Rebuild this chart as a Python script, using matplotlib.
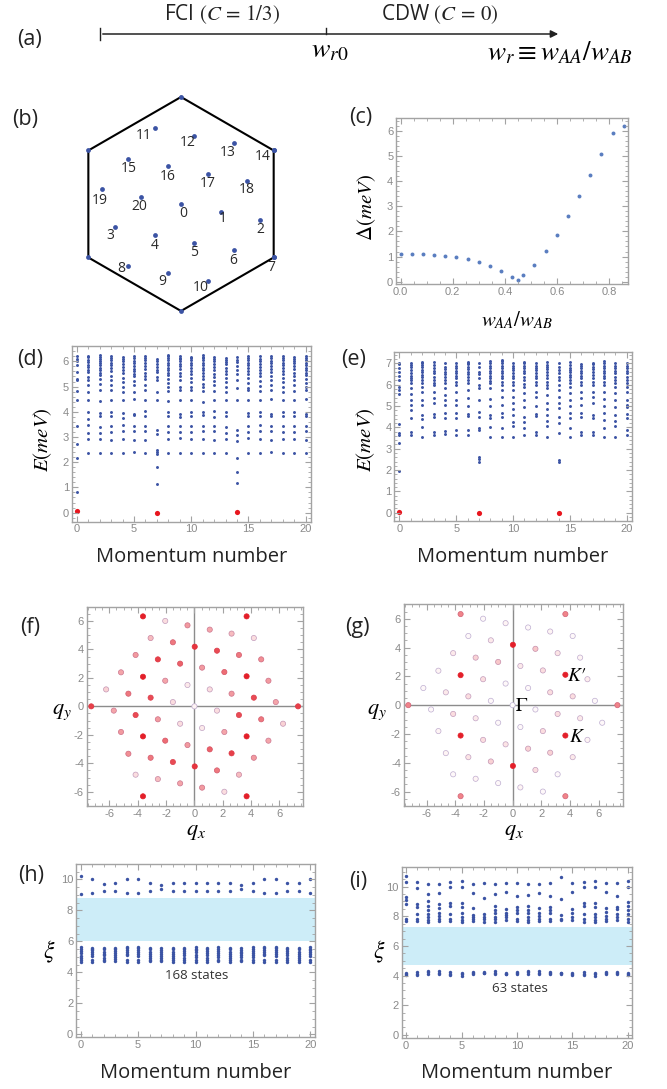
import numpy as np
import matplotlib.pyplot as plt
from matplotlib.ticker import MultipleLocator

plt.rcParams['mathtext.fontset'] = 'stix'
plt.rcParams['font.family'] = ['Liberation Sans', 'DejaVu Sans']
plt.rcParams['axes.unicode_minus'] = False

W, H = 667, 1089

# (b) momentum points inside the hexagonal zone (units of the zone radius)
bz_kx = [0.0, 0.370, 0.739, -0.618, -0.245, 0.124, 0.494, 0.866, -0.494, -0.124, 0.248,
         -0.245, 0.124, 0.494, 0.866, -0.494, -0.124, 0.248, 0.618, -0.742, -0.370]
bz_ky = [0.0, -0.071, -0.146, -0.217, -0.289, -0.360, -0.432, -0.500, -0.575, -0.646, -0.717,
         0.711, 0.640, 0.568, 0.500, 0.425, 0.354, 0.283, 0.211, 0.140, 0.068]
bz_labels = [str(i) for i in range(21)]

# (c) gap vs w_AA/w_AB
c_ratio = [0.0, 0.042, 0.087, 0.129, 0.172, 0.214, 0.257, 0.301, 0.343, 0.385, 0.429,
           0.449, 0.471, 0.513, 0.557, 0.599, 0.643, 0.685, 0.728, 0.771, 0.814, 0.856]
c_gap = [1.11, 1.11, 1.10, 1.07, 1.02, 0.97, 0.89, 0.78, 0.62, 0.44, 0.17,
         0.05, 0.25, 0.68, 1.22, 1.85, 2.60, 3.39, 4.25, 5.09, 5.89, 6.19]

# (d) spectrum, FCI side
d_blue = [
    [0.80, 2.18, 2.72, 3.44, 4.47, 4.82, 5.24, 5.28, 5.58, 5.87, 6.00, 6.09, 6.20],
    [2.38, 2.91, 3.17, 3.46, 3.72, 3.99, 4.45, 4.78, 5.07, 5.24, 5.37, 5.57, 5.66, 5.76, 5.87, 5.97, 6.07, 6.16, 6.22],
    [2.37, 2.90, 3.15, 3.40, 3.82, 3.95, 4.42, 4.85, 5.10, 5.30, 5.45, 5.55, 5.65, 5.75, 5.85, 5.95, 6.02, 6.10, 6.18, 6.25],
    [2.38, 2.88, 3.20, 3.42, 3.85, 4.00, 4.46, 4.85, 5.05, 5.25, 5.40, 5.60, 5.72, 5.85, 5.95, 6.05, 6.12, 6.20],
    [2.38, 2.92, 3.22, 3.48, 3.75, 3.95, 4.45, 4.80, 5.00, 5.20, 5.35, 5.55, 5.65, 5.78, 5.90, 6.00, 6.10, 6.18],
    [2.40, 2.88, 3.25, 3.42, 3.88, 3.92, 4.50, 4.80, 5.05, 5.22, 5.40, 5.50, 5.62, 5.70, 5.82, 5.92, 6.02, 6.12, 6.20],
    [2.38, 2.88, 3.22, 3.45, 3.85, 4.02, 4.45, 4.85, 5.05, 5.28, 5.40, 5.55, 5.70, 5.82, 5.92, 6.05, 6.12, 6.20],
    [1.13, 1.82, 2.32, 2.41, 2.47, 3.13, 3.29, 4.45, 4.80, 5.24, 5.37, 5.57, 5.66, 5.79, 5.89, 6.03, 6.09],
    [2.36, 2.92, 3.18, 3.42, 3.82, 3.98, 4.42, 4.82, 5.00, 5.15, 5.30, 5.45, 5.55, 5.65, 5.75, 5.85, 5.95, 6.05, 6.12, 6.20, 6.25],
    [2.37, 2.95, 3.20, 3.45, 3.80, 3.92, 4.48, 4.88, 5.00, 5.25, 5.40, 5.55, 5.68, 5.80, 5.90, 6.00, 6.08, 6.15, 6.22],
    [2.37, 2.90, 3.18, 3.45, 3.85, 4.00, 4.45, 4.85, 4.98, 5.18, 5.32, 5.48, 5.60, 5.72, 5.85, 5.95, 6.05, 6.12, 6.18],
    [2.36, 2.92, 3.22, 3.42, 3.88, 4.00, 4.40, 4.82, 5.00, 5.12, 5.28, 5.42, 5.55, 5.65, 5.75, 5.85, 5.95, 6.05, 6.12, 6.18, 6.24],
    [2.38, 2.88, 3.25, 3.45, 3.80, 4.02, 4.45, 4.82, 5.05, 5.22, 5.38, 5.50, 5.65, 5.78, 5.90, 6.00, 6.10, 6.18],
    [2.36, 2.92, 3.15, 3.40, 3.82, 3.98, 4.46, 4.80, 5.00, 5.18, 5.35, 5.50, 5.62, 5.75, 5.88, 5.98, 6.05, 6.12],
    [1.16, 1.62, 2.18, 2.83, 3.07, 3.26, 4.45, 4.95, 5.24, 5.50, 5.67, 5.83, 5.96, 6.07, 6.16],
    [2.38, 2.95, 3.18, 3.42, 3.85, 3.95, 4.48, 4.85, 4.95, 5.15, 5.32, 5.50, 5.62, 5.75, 5.85, 5.95, 6.05, 6.15, 6.22],
    [2.38, 2.90, 3.25, 3.48, 3.82, 4.00, 4.45, 4.82, 5.02, 5.22, 5.40, 5.55, 5.65, 5.78, 5.90, 6.00, 6.10, 6.20],
    [2.40, 2.88, 3.22, 3.42, 3.85, 3.90, 4.50, 4.85, 5.05, 5.25, 5.42, 5.58, 5.70, 5.82, 5.92, 6.02, 6.12, 6.20],
    [2.38, 2.92, 3.18, 3.45, 3.82, 3.98, 4.45, 4.80, 5.00, 5.18, 5.35, 5.48, 5.60, 5.72, 5.85, 5.95, 6.05, 6.15, 6.22],
    [2.37, 2.90, 3.20, 3.42, 3.85, 3.98, 4.48, 4.82, 5.05, 5.25, 5.40, 5.55, 5.68, 5.80, 5.92, 6.02, 6.10, 6.18],
    [2.38, 2.88, 3.25, 3.42, 3.85, 3.92, 4.50, 4.85, 5.00, 5.15, 5.30, 5.45, 5.55, 5.65, 5.75, 5.85, 5.95, 6.05, 6.12, 6.20],
]
gs_k = [0, 7, 14]
d_red = [0.07, 0.00, 0.03]

# (e) spectrum, CDW side
e_blue = [
    [1.95, 3.25, 3.64, 3.75, 4.16, 5.56, 5.75, 5.88, 6.22, 6.40, 6.60, 6.80, 6.95, 7.03],
    [3.64, 3.80, 4.42, 4.81, 5.05, 5.28, 5.56, 5.83, 6.06, 6.20, 6.30, 6.42, 6.53, 6.69, 6.84, 6.92, 7.00],
    [3.56, 4.00, 4.40, 4.58, 5.05, 5.28, 5.67, 5.90, 6.08, 6.22, 6.35, 6.45, 6.58, 6.69, 6.84, 6.92, 7.00, 7.08],
    [3.64, 3.80, 4.50, 4.63, 5.13, 5.36, 5.67, 5.98, 6.10, 6.22, 6.38, 6.53, 6.65, 6.77, 6.92, 7.05],
    [3.69, 3.83, 4.42, 4.66, 5.05, 5.28, 5.52, 5.83, 6.06, 6.20, 6.38, 6.50, 6.60, 6.72, 6.84, 7.00],
    [3.64, 3.88, 4.42, 4.69, 5.05, 5.28, 5.67, 5.98, 6.15, 6.30, 6.42, 6.53, 6.65, 6.77, 6.90, 7.03],
    [3.64, 3.90, 4.53, 4.63, 5.00, 5.36, 5.75, 6.06, 6.22, 6.38, 6.50, 6.60, 6.72, 6.84, 6.95, 7.00, 7.08],
    [2.36, 2.50, 2.63, 3.88, 3.95, 4.50, 4.73, 5.28, 5.83, 5.98, 6.30, 6.48, 6.60, 6.84, 7.03],
    [3.56, 4.00, 4.42, 4.58, 5.00, 5.31, 5.83, 6.06, 6.18, 6.30, 6.42, 6.53, 6.65, 6.77, 6.90, 7.00, 7.11],
    [3.56, 3.95, 4.50, 4.66, 5.05, 5.44, 5.75, 5.98, 6.15, 6.30, 6.42, 6.53, 6.65, 6.77, 6.88, 7.00, 7.10, 7.16],
    [3.56, 4.06, 4.27, 4.58, 4.84, 5.13, 5.44, 5.75, 5.98, 6.15, 6.30, 6.42, 6.53, 6.68, 6.80, 6.90, 7.00],
    [3.64, 3.95, 4.27, 4.50, 4.94, 5.28, 5.59, 5.90, 6.05, 6.22, 6.38, 6.53, 6.65, 6.77, 6.90, 7.00, 7.08],
    [3.64, 3.80, 4.53, 4.63, 5.00, 5.44, 5.67, 5.98, 6.15, 6.30, 6.42, 6.56, 6.68, 6.77, 6.90, 7.00],
    [3.56, 4.06, 4.31, 4.58, 4.84, 5.13, 5.52, 5.83, 6.00, 6.14, 6.30, 6.45, 6.58, 6.72, 6.82, 6.92, 7.08],
    [2.36, 2.48, 3.75, 4.19, 4.50, 4.89, 5.13, 5.44, 5.75, 5.98, 6.22, 6.38, 6.53, 6.70, 6.84, 7.00],
    [3.56, 3.95, 4.42, 4.66, 5.00, 5.28, 5.59, 5.90, 6.06, 6.22, 6.35, 6.45, 6.58, 6.69, 6.80, 6.92, 7.08],
    [3.64, 3.80, 4.50, 4.66, 5.05, 5.36, 5.67, 5.98, 6.15, 6.30, 6.42, 6.53, 6.65, 6.77, 6.88, 6.95],
    [3.64, 3.80, 4.42, 4.58, 5.13, 5.41, 5.67, 5.98, 6.15, 6.30, 6.45, 6.60, 6.72, 6.84, 6.95, 7.03],
    [3.56, 3.95, 4.34, 4.66, 5.00, 5.31, 5.67, 5.98, 6.15, 6.30, 6.42, 6.53, 6.65, 6.77, 6.90, 7.00, 7.13],
    [3.56, 4.06, 4.31, 4.58, 4.97, 5.28, 5.59, 5.90, 6.06, 6.22, 6.38, 6.53, 6.65, 6.77, 6.90, 7.00],
    [3.64, 3.88, 4.42, 4.63, 4.97, 5.05, 5.28, 5.67, 5.90, 6.06, 6.22, 6.38, 6.53, 6.65, 6.77, 6.90, 7.00],
]
e_red = [0.02, 0.00, 0.00]

# (f), (g) momentum-space weights on the extended q grid
qx = [-3.63, -2.06, -0.49, 3.68, 1.08, 2.62, 4.19, -3.09, -1.52, 0.02, 1.59, 3.14, 4.71,
      -4.15, -2.58, -1.01, 0.54, 2.11, 3.68, 5.22, -5.18, -3.63, -2.06, -0.49, 1.08, 2.62,
      4.19, 5.74, 7.31, -6.23, -4.66, -3.09, -1.52, 0.0, -7.28, -5.69, -4.15, -2.58, -1.01,
      0.54, 1.59, 3.14, 4.71, 6.25, -5.18, -3.63, -2.06, -0.49, 1.08, 2.11, 3.68, 5.22,
      -4.66, -3.09, -1.52, 0.02, 1.59, 2.62, 4.19, -4.15, -2.58, -1.01, 0.54, 2.11, 3.14,
      -3.63, 3.68]
qy = [6.32, 6.0, 5.69, 6.32, 5.39, 5.11, 4.80, 4.80, 4.50, 4.19, 3.91, 3.61, 3.30,
      3.61, 3.30, 3.0, 2.72, 2.41, 2.11, 1.80, 2.39, 2.08, 1.80, 1.50, 1.19, 0.89,
      0.61, 0.30, 0.0, 1.19, 0.89, 0.61, 0.30, 0.0, 0.0, -0.30, -0.61, -0.91, -1.22,
      -1.52, -0.30, -0.61, -0.91, -1.22, -1.80, -2.11, -2.41, -2.72, -3.02, -1.80, -2.11, -2.41,
      -3.33, -3.61, -3.91, -4.22, -4.50, -3.30, -3.61, -4.80, -5.11, -5.41, -5.71, -6.0, -4.80,
      -6.32, -6.32]
f_w = [1.0, 0.15, 0.45, 1.0, 0.4, 0.3, 0.15, 0.3, 0.6, 0.9, 0.8, 0.6, 0.5,
       0.45, 0.85, 0.7, 0.45, 0.65, 1.0, 0.45, 0.4, 1.0, 0.4, 0.1, 0.15, 0.45,
       0.8, 0.4, 0.85, 0.2, 0.6, 0.8, 0.15, 0.05, 0.85, 0.4, 0.8, 0.45, 0.15,
       0.1, 0.15, 0.8, 0.6, 0.2, 0.45, 1.0, 0.65, 0.45, 0.7, 0.4, 1.0, 0.4,
       0.5, 0.6, 0.8, 0.9, 0.6, 0.85, 0.45, 0.15, 0.3, 0.4, 0.45, 0.15, 0.3,
       1.0, 1.0]
g_w = [0.55, 0.03, 0.05, 0.55, 0.03, 0.05, 0.03, 0.03, 0.1, 1.0, 0.25, 0.12, 0.05,
       0.1, 0.2, 0.25, 0.1, 0.15, 1.0, 0.08, 0.05, 1.0, 0.15, 0.03, 0.03, 0.15,
       0.15, 0.03, 0.55, 0.03, 0.1, 0.15, 0.03, 0.02, 0.55, 0.03, 0.15, 0.1, 0.03,
       0.03, 0.03, 0.15, 0.1, 0.03, 0.05, 1.0, 0.15, 0.12, 0.2, 0.15, 1.0, 0.05,
       0.05, 0.12, 0.2, 1.0, 0.15, 0.2, 0.1, 0.03, 0.05, 0.03, 0.05, 0.03, 0.03,
       0.55, 0.55]

# (h), (i) entanglement spectra
h_upper = [[10.24, 9.08], [10.04, 9.14], [9.74, 9.25], [9.80, 9.25], [10.04, 9.10], [10.04, 9.10],
           [9.80, 9.25], [9.63, 9.38], [9.75, 9.25], [9.80, 9.25], [9.75, 9.25], [9.75, 9.25],
           [9.80, 9.25], [9.75, 9.25], [9.66, 9.36], [9.80, 9.25], [10.04, 9.10], [10.04, 9.10],
           [9.80, 9.25], [9.75, 9.25], [10.04, 9.10]]
h_lower = [
    [5.62, 5.50, 5.38, 5.25, 5.05, 4.92, 4.78, 4.66],
    [5.60, 5.52, 5.42, 5.30, 5.18, 5.05, 4.82, 4.70],
    [5.58, 5.48, 5.35, 5.22, 5.10, 4.95, 4.80, 4.72],
    [5.60, 5.50, 5.40, 5.28, 5.15, 5.02, 4.85, 4.72],
    [5.62, 5.55, 5.45, 5.35, 5.22, 5.10, 4.80, 4.68],
    [5.65, 5.55, 5.45, 5.35, 5.20, 5.05, 4.80, 4.70],
    [5.60, 5.48, 5.35, 5.20, 5.08, 4.95, 4.82, 4.72],
    [5.55, 5.45, 5.32, 5.18, 5.05, 4.92, 4.80, 4.72],
    [5.58, 5.48, 5.35, 5.22, 5.05, 4.90, 4.78, 4.70],
    [5.60, 5.50, 5.38, 5.25, 5.10, 4.95, 4.78, 4.68],
    [5.62, 5.52, 5.42, 5.30, 5.15, 5.00, 4.82, 4.70],
    [5.60, 5.50, 5.38, 5.25, 5.10, 4.95, 4.80, 4.70],
    [5.62, 5.52, 5.40, 5.28, 5.12, 4.98, 4.82, 4.72],
    [5.58, 5.48, 5.35, 5.22, 5.08, 4.95, 4.80, 4.70],
    [5.55, 5.45, 5.35, 5.25, 5.12, 4.98, 4.82, 4.72],
    [5.62, 5.52, 5.40, 5.28, 5.12, 4.98, 4.80, 4.68],
    [5.62, 5.55, 5.45, 5.35, 5.22, 5.10, 4.80, 4.68],
    [5.65, 5.55, 5.45, 5.32, 5.20, 5.05, 4.80, 4.70],
    [5.60, 5.50, 5.38, 5.25, 5.10, 4.95, 4.80, 4.70],
    [5.58, 5.48, 5.35, 5.22, 5.08, 4.95, 4.80, 4.70],
    [5.62, 5.52, 5.42, 5.30, 5.18, 5.05, 4.82, 4.68],
]
h_band = (6.0, 8.8)

i_upper = [
    [10.74, 10.34, 9.28, 9.10, 8.80, 7.79, 7.66],
    [10.34, 9.93, 8.83, 8.60, 8.15, 7.79, 7.68],
    [10.16, 9.48, 9.03, 8.69, 8.42, 8.15, 7.93, 7.75, 7.59],
    [10.16, 9.59, 8.80, 8.58, 8.20, 8.02, 7.84, 7.70],
    [10.34, 9.95, 8.87, 8.69, 8.15, 7.79, 7.66],
    [10.40, 9.95, 8.92, 8.65, 8.20, 7.93, 7.75, 7.59],
    [10.16, 9.59, 8.54, 8.09, 7.93, 7.79, 7.68],
    [10.27, 9.26, 8.13, 7.97, 7.79, 7.63],
    [10.16, 9.48, 8.69, 8.42, 8.20, 7.97, 7.79, 7.63],
    [10.27, 9.62, 8.47, 8.24, 8.09, 7.93, 7.75],
    [10.23, 9.37, 8.65, 8.42, 8.20, 7.79, 7.68],
    [10.16, 9.41, 8.69, 8.42, 8.20, 7.93, 7.75, 7.59],
    [10.16, 9.59, 8.58, 8.20, 8.02, 7.84, 7.70],
    [10.27, 9.35, 8.65, 8.42, 8.24, 7.84, 7.70],
    [10.63, 9.14, 8.11, 7.84, 7.75],
    [10.27, 9.62, 8.49, 8.20, 7.93, 7.75],
    [10.34, 9.95, 8.87, 8.69, 8.15, 7.79, 7.61],
    [10.40, 9.95, 8.92, 8.65, 8.15, 7.93, 7.75, 7.59],
    [10.27, 9.62, 8.54, 8.31, 8.02, 7.84, 7.70],
    [10.27, 9.37, 8.65, 8.47, 8.15, 7.93, 7.75],
    [10.40, 9.95, 8.94, 8.69, 8.42, 8.15, 7.84, 7.63],
]
i_lower = [
    [4.05, 4.10, 4.15], [4.02, 4.12, 4.22], [4.12, 4.22, 4.32], [4.08, 4.18, 4.28],
    [4.02, 4.12, 4.22], [4.00, 4.08, 4.15], [4.08, 4.18, 4.25], [4.15, 4.20, 4.25],
    [4.10, 4.20, 4.30], [4.08, 4.12, 4.18], [4.12, 4.18, 4.22], [4.12, 4.22, 4.32],
    [4.08, 4.18, 4.28], [4.12, 4.18, 4.22], [4.12, 4.15, 4.18], [4.05, 4.12, 4.18],
    [4.02, 4.12, 4.22], [4.00, 4.08, 4.15], [4.08, 4.15, 4.22], [4.10, 4.18, 4.25],
    [4.02, 4.08, 4.15],
]
i_band = (4.73, 7.27)

BLUE = '#3b53a4'
RED = '#e8161e'
FRAME = '#a3a3a3'
TICK = '#8a8a8a'
LABEL_FONT = ['Open Sans', 'DejaVu Sans']

fig = plt.figure(figsize=(W / 100, H / 100), dpi=100)


def rect(l, t, r, b):
    return [l / W, 1 - b / H, (r - l) / W, (b - t) / H]


def ftext(x, y, s, **kw):
    kw.setdefault('ha', 'center')
    kw.setdefault('va', 'center')
    fig.text(x / W, 1 - y / H, s, **kw)


def frame(ax, xmaj, xmin, ymaj, ymin):
    for sp in ax.spines.values():
        sp.set_color(FRAME)
        sp.set_linewidth(1.0)
    ax.xaxis.set_major_locator(MultipleLocator(xmaj))
    ax.xaxis.set_minor_locator(MultipleLocator(xmin))
    ax.yaxis.set_major_locator(MultipleLocator(ymaj))
    ax.yaxis.set_minor_locator(MultipleLocator(ymin))
    ax.tick_params(which='both', direction='in', top=True, right=True,
                   color=FRAME, labelcolor=TICK, labelsize=8, pad=2)
    ax.tick_params(which='major', length=4, width=0.8)
    ax.tick_params(which='minor', length=2, width=0.6)


def columns(data):
    xs, ys = [], []
    for k, col in enumerate(data):
        xs += [k] * len(col)
        ys += col
    return xs, ys


# ---------- (a) schematic ----------
axa = fig.add_axes([0, 1 - 90 / H, 1, 90 / H])
axa.set_xlim(0, W)
axa.set_ylim(90, 0)
axa.axis('off')
axa.annotate('', xy=(561, 34), xytext=(100, 34),
             arrowprops=dict(arrowstyle='-|>', lw=1.1, color='#222222', mutation_scale=11))
axa.plot([100, 100], [28, 40], color='#222222', lw=1.0)
axa.plot([326, 326], [28, 34], color='#222222', lw=1.0)
axa.text(222, 14, 'FCI $(C\\,=\\,1/3)$', ha='center', va='center', fontsize=15,
         family=LABEL_FONT, color='#222222')
axa.text(440, 14, 'CDW $(C\\,=\\,0)$', ha='center', va='center', fontsize=15,
         family=LABEL_FONT, color='#222222')
axa.text(330, 50, '$w_{r0}$', ha='center', va='center', fontsize=20)
axa.text(560, 53, '$w_r\\equiv w_{AA}/w_{AB}$', ha='center', va='center', fontsize=19.5)

# ---------- (b) Brillouin zone ----------
axb = fig.add_axes(rect(60, 85, 300, 325))
axb.set_xlim(-1.131, 1.112)
axb.set_ylim(-1.131, 1.112)
axb.axis('off')
ang = np.deg2rad(np.arange(90, 450, 60))
axb.plot(np.append(np.cos(ang), np.cos(ang[0])), np.append(np.sin(ang), np.sin(ang[0])),
         color='black', lw=1.5, zorder=1)
axb.scatter(np.cos(ang), np.sin(ang), s=12, color=BLUE, linewidths=0, zorder=2)
axb.scatter(bz_kx, bz_ky, s=12, color=BLUE, linewidths=0, zorder=2)
lab_off = [(2, 10), (2, 7), (0, 10), (-5, 8), (0, 11), (0, 10), (-1, 10), (-2, 10), (-7, 3),
           (-5, 8), (-7, 7), (-11, 8), (-7, 7), (-6, 9), (-11, 6), (1, 10), (0, 10), (0, 10),
           (0, 8), (-2, 11), (-2, 10)]
for x, y, s, (dx, dy) in zip(bz_kx, bz_ky, bz_labels, lab_off):
    axb.annotate(s, (x, y), xytext=(dx, -dy), textcoords='offset pixels', ha='center',
                 va='center', fontsize=10, family=LABEL_FONT, color='#2a2a2a')

# ---------- (c) gap ----------
axc = fig.add_axes(rect(396, 118, 628, 284))
axc.scatter(c_ratio, c_gap, s=8, color='#5a7dc0', linewidths=0)
axc.set_xlim(-0.018, 0.873)
axc.set_ylim(-0.09, 6.5)
frame(axc, 0.2, 0.05, 1, 0.2)
ftext(367, 208, '$\\Delta(meV)$', fontsize=15, rotation=90)
ftext(517, 320, '$w_{AA}/w_{AB}$', fontsize=15)

# ---------- (d), (e) spectra ----------
for box, blue, red, ylim, ylab_x in [((71.7, 345.7, 310.7, 521.7), d_blue, d_red, (-0.36, 6.62), 43),
                                     ((394.3, 352.3, 631.7, 521.3), e_blue, e_red, (-0.40, 7.52), 366)]:
    ax = fig.add_axes(rect(*box))
    xs, ys = columns(blue)
    ax.scatter(xs, ys, s=4.5, color=BLUE, linewidths=0)
    ax.scatter(gs_k, red, s=14, color=RED, linewidths=0)
    ax.set_xlim(-0.45, 20.44)
    ax.set_ylim(*ylim)
    frame(ax, 5, 1, 1, 0.2)
    ftext(ylab_x, 440, '$E(meV)$', fontsize=15, rotation=90)
    ftext((box[0] + box[2]) / 2, 557, 'Momentum number', fontsize=14.5, family=LABEL_FONT,
          color='#222222')

# ---------- (f), (g) q-space ----------
red_rgb = np.array([0.89, 0.12, 0.16])
lav_rgb = np.array([0.74, 0.70, 0.84])
white = np.ones(3)
for box, wts, ql_x in [((86.7, 606.7, 303.3, 806), f_w, 62), ((403.7, 604.3, 622.7, 806), g_w, 377)]:
    ax = fig.add_axes(rect(*box))
    w = np.array(wts)[:, None]
    face = white * (1 - w) + red_rgb * w
    edge = lav_rgb * (1 - w) + red_rgb * w
    ax.axhline(0, color='#8c8c8c', lw=1.0, zorder=1)
    ax.axvline(0, color='#8c8c8c', lw=1.0, zorder=1)
    ax.scatter(qx, qy, s=14, c=face, edgecolors=edge, linewidths=0.5, zorder=2)
    ax.set_xlim(-7.6, 7.68)
    ax.set_ylim(-7.0, 7.0)
    frame(ax, 2, 0.5, 2, 0.5)
    ftext(ql_x, 711, '$q_y$', fontsize=16)
    ftext((box[0] + box[2]) / 2 + 1, 832, '$q_x$', fontsize=16)
    if wts is g_w:
        ax.text(4.49, 1.97, "$K$\u2032", fontsize=14, ha='center', va='center',
                family=['STIXGeneral', 'DejaVu Serif'])
        ax.text(4.49, -2.27, '$K$', fontsize=14, ha='center', va='center')
        ax.text(0.6, -0.1, '$\\Gamma$', fontsize=14, ha='center', va='center')

# ---------- (h), (i) entanglement spectra ----------
for box, upper, lower, band, ylim, txt, txt_xy, xi_x in [
        ((76, 864, 315, 1037.3), h_upper, h_lower, h_band, (-0.19, 11.0), '168 states', (10.1, 3.78), 49),
        ((401.7, 867.3, 632.3, 1038), i_upper, i_lower, i_band, (-0.22, 11.31), '63 states', (10.3, 3.13), 379)]:
    ax = fig.add_axes(rect(*box))
    ax.axhspan(band[0], band[1], color='#cdedf8', lw=0, zorder=0)
    xs, ys = columns(upper)
    ax.scatter(xs, ys, s=6, color=BLUE, linewidths=0)
    xs, ys = columns(lower)
    ax.scatter(xs, ys, s=6, color=BLUE, linewidths=0)
    ax.set_xlim(-0.4, 20.4)
    ax.set_ylim(*ylim)
    frame(ax, 5, 1, 2, 0.5)
    ax.text(txt_xy[0], txt_xy[1], txt, ha='center', va='center', fontsize=9.5,
            family=LABEL_FONT, color='#333333')
    ftext(xi_x, 952, '$\\xi$', fontsize=17)
    ftext((box[0] + box[2]) / 2, 1073, 'Momentum number', fontsize=14.5, family=LABEL_FONT,
          color='#222222')

# panel letters
for s, x, y in [('(a)', 29, 40), ('(b)', 25, 120), ('(c)', 361, 117), ('(d)', 30, 359),
                ('(e)', 354, 359), ('(f)', 30, 628), ('(g)', 357, 628), ('(h)', 31, 876),
                ('(i)', 358, 882)]:
    ftext(x, y, s, fontsize=15.5, family=LABEL_FONT, color='#222222')

fig.savefig('out.png', dpi=100)
